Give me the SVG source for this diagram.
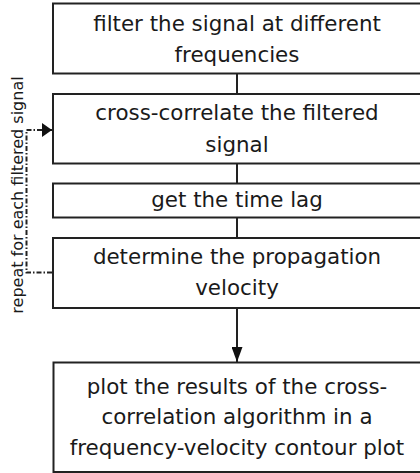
<svg xmlns="http://www.w3.org/2000/svg" width="420" height="473" viewBox="0 0 420 473">
  <defs>
    <style>
      .box { fill: #ffffff; stroke: #222222; stroke-width: 2; }
      .lbl { font-family: "DejaVu Sans", Verdana, sans-serif; font-size: 21.4px; fill: #1a1a1a; text-anchor: middle; }
      .side { font-family: "DejaVu Sans", Verdana, sans-serif; font-size: 16px; fill: #1a1a1a; text-anchor: middle; }
      .link { fill: none; stroke: #222222; stroke-width: 2; }
      .loop { fill: none; stroke: #222222; stroke-width: 2; stroke-dasharray: 5 2 1.5 2; }
    </style>
    <marker id="arrow" viewBox="0 0 10 14" refX="10" refY="7" markerWidth="10" markerHeight="14" markerUnits="userSpaceOnUse" orient="auto">
      <path d="M0,0 L10,7 L0,14 Z" fill="#111111"/>
    </marker>
    <marker id="arrowDown" viewBox="0 0 15 11" refX="15" refY="5.5" markerWidth="15" markerHeight="11" markerUnits="userSpaceOnUse" orient="auto">
      <path d="M0,0 L15,5.5 L0,11 Z" fill="#111111"/>
    </marker>
  </defs>

  <rect width="420" height="473" fill="#ffffff"/>

  <g id="connectors">
    <line class="link" x1="237" y1="73" x2="237" y2="94"/>
    <line class="link" x1="237" y1="163" x2="237" y2="183"/>
    <line class="link" x1="237" y1="217" x2="237" y2="238"/>
    <line class="link" x1="237" y1="308" x2="237" y2="362" marker-end="url(#arrowDown)"/>
    <polyline class="loop" points="52,272.5 26.5,272.5 26.5,130 52,130" marker-end="url(#arrow)"/>
  </g>

  <g id="node-filter">
    <rect class="box" x="53" y="3.5" width="370" height="70"/>
    <text class="lbl" x="237" y="30.5">filter the signal at different</text>
    <text class="lbl" x="237" y="62">frequencies</text>
  </g>

  <g id="node-xcorr">
    <rect class="box" x="53" y="94" width="370" height="69.5"/>
    <text class="lbl" x="237" y="119.5">cross-correlate the filtered</text>
    <text class="lbl" x="237" y="151.5">signal</text>
  </g>

  <g id="node-lag">
    <rect class="box" x="53" y="183.5" width="370" height="34"/>
    <text class="lbl" x="237" y="207">get the time lag</text>
  </g>

  <g id="node-velocity">
    <rect class="box" x="53" y="238" width="370" height="70"/>
    <text class="lbl" x="237" y="263.5">determine the propagation</text>
    <text class="lbl" x="237" y="295">velocity</text>
  </g>

  <g id="node-plot">
    <rect class="box" x="53.5" y="362.5" width="370" height="109.5"/>
    <text class="lbl" x="237" y="393.5">plot the results of the cross-</text>
    <text class="lbl" x="237" y="424">correlation algorithm in a</text>
    <text class="lbl" x="237" y="455">frequency-velocity contour plot</text>
  </g>

  <g id="loop-label">
    <text class="side" transform="translate(22.5,195) rotate(-90)">repeat for each filtered signal</text>
  </g>
</svg>
